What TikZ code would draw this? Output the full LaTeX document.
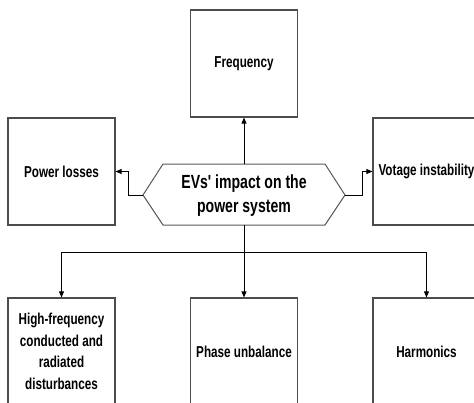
\documentclass[tikz,border=0pt]{standalone}
\usepackage{fontspec}
\setmainfont{Liberation Sans}[FakeStretch=0.74, Ligatures=TeXOff]
\usetikzlibrary{arrows.meta}
\begin{document}
\begin{tikzpicture}[x=1pt,y=-1pt,
  box/.style={draw=black!70, line width=1.2pt, rectangle, minimum width=107pt, minimum height=107pt, inner sep=0pt, align=center, font=\fontsize{15.8}{21.5}\selectfont\bfseries},
  hexline/.style={draw=black!65, line width=1pt},
  arr/.style={black, line width=0.8pt, -{Triangle[length=6pt,width=5pt]}},
  conn/.style={black, line width=0.8pt}]
\path[use as bounding box] (0,0) rectangle (474,402);
\clip (0,0) rectangle (474,402);
\fill[white] (0,0) rectangle (474,402);
% boxes
\node[box] (freq) at (244,63.5) {Frequency};
\node[box] (loss) at (61.5,171.5) {Power losses};
\node[box] (volt) at (426.5,171.5) {Votage instability};
\node[box] (hf) at (61.5,351.5) {High-frequency\\conducted and\\radiated\\disturbances};
\node[box] (pu) at (244,351.5) {Phase unbalance};
\node[box] (hm) at (426.5,351.5) {Harmonics};
% hexagon
\coordinate (hexL) at (143,195);
\coordinate (hexR) at (345,195);
\coordinate (hexT) at (244,164);
\coordinate (hexB) at (244,225);
\draw[hexline] (hexL) -- (163,164) -- (325,164) -- (hexR) -- (325,225) -- (163,225) -- cycle;
\node[align=center, font=\fontsize{19}{24}\selectfont\bfseries] (hex) at (244,195.5) {EVs' impact on the\\power system};
% connectors
\draw[arr] (hexT) -- (freq.south);
\draw[arr] (hexL) -- ++(-15,0) |- (loss.east);
\draw[arr] (hexR) -- ++(17,0) |- (volt.west);
\coordinate (bus) at (244,252);
\draw[conn] (hexB) -- (bus);
\draw[arr] (bus) -| (hf.north);
\draw[arr] (bus) -| (hm.north);
\draw[arr] (bus) -- (pu.north);
\end{tikzpicture}
\end{document}
